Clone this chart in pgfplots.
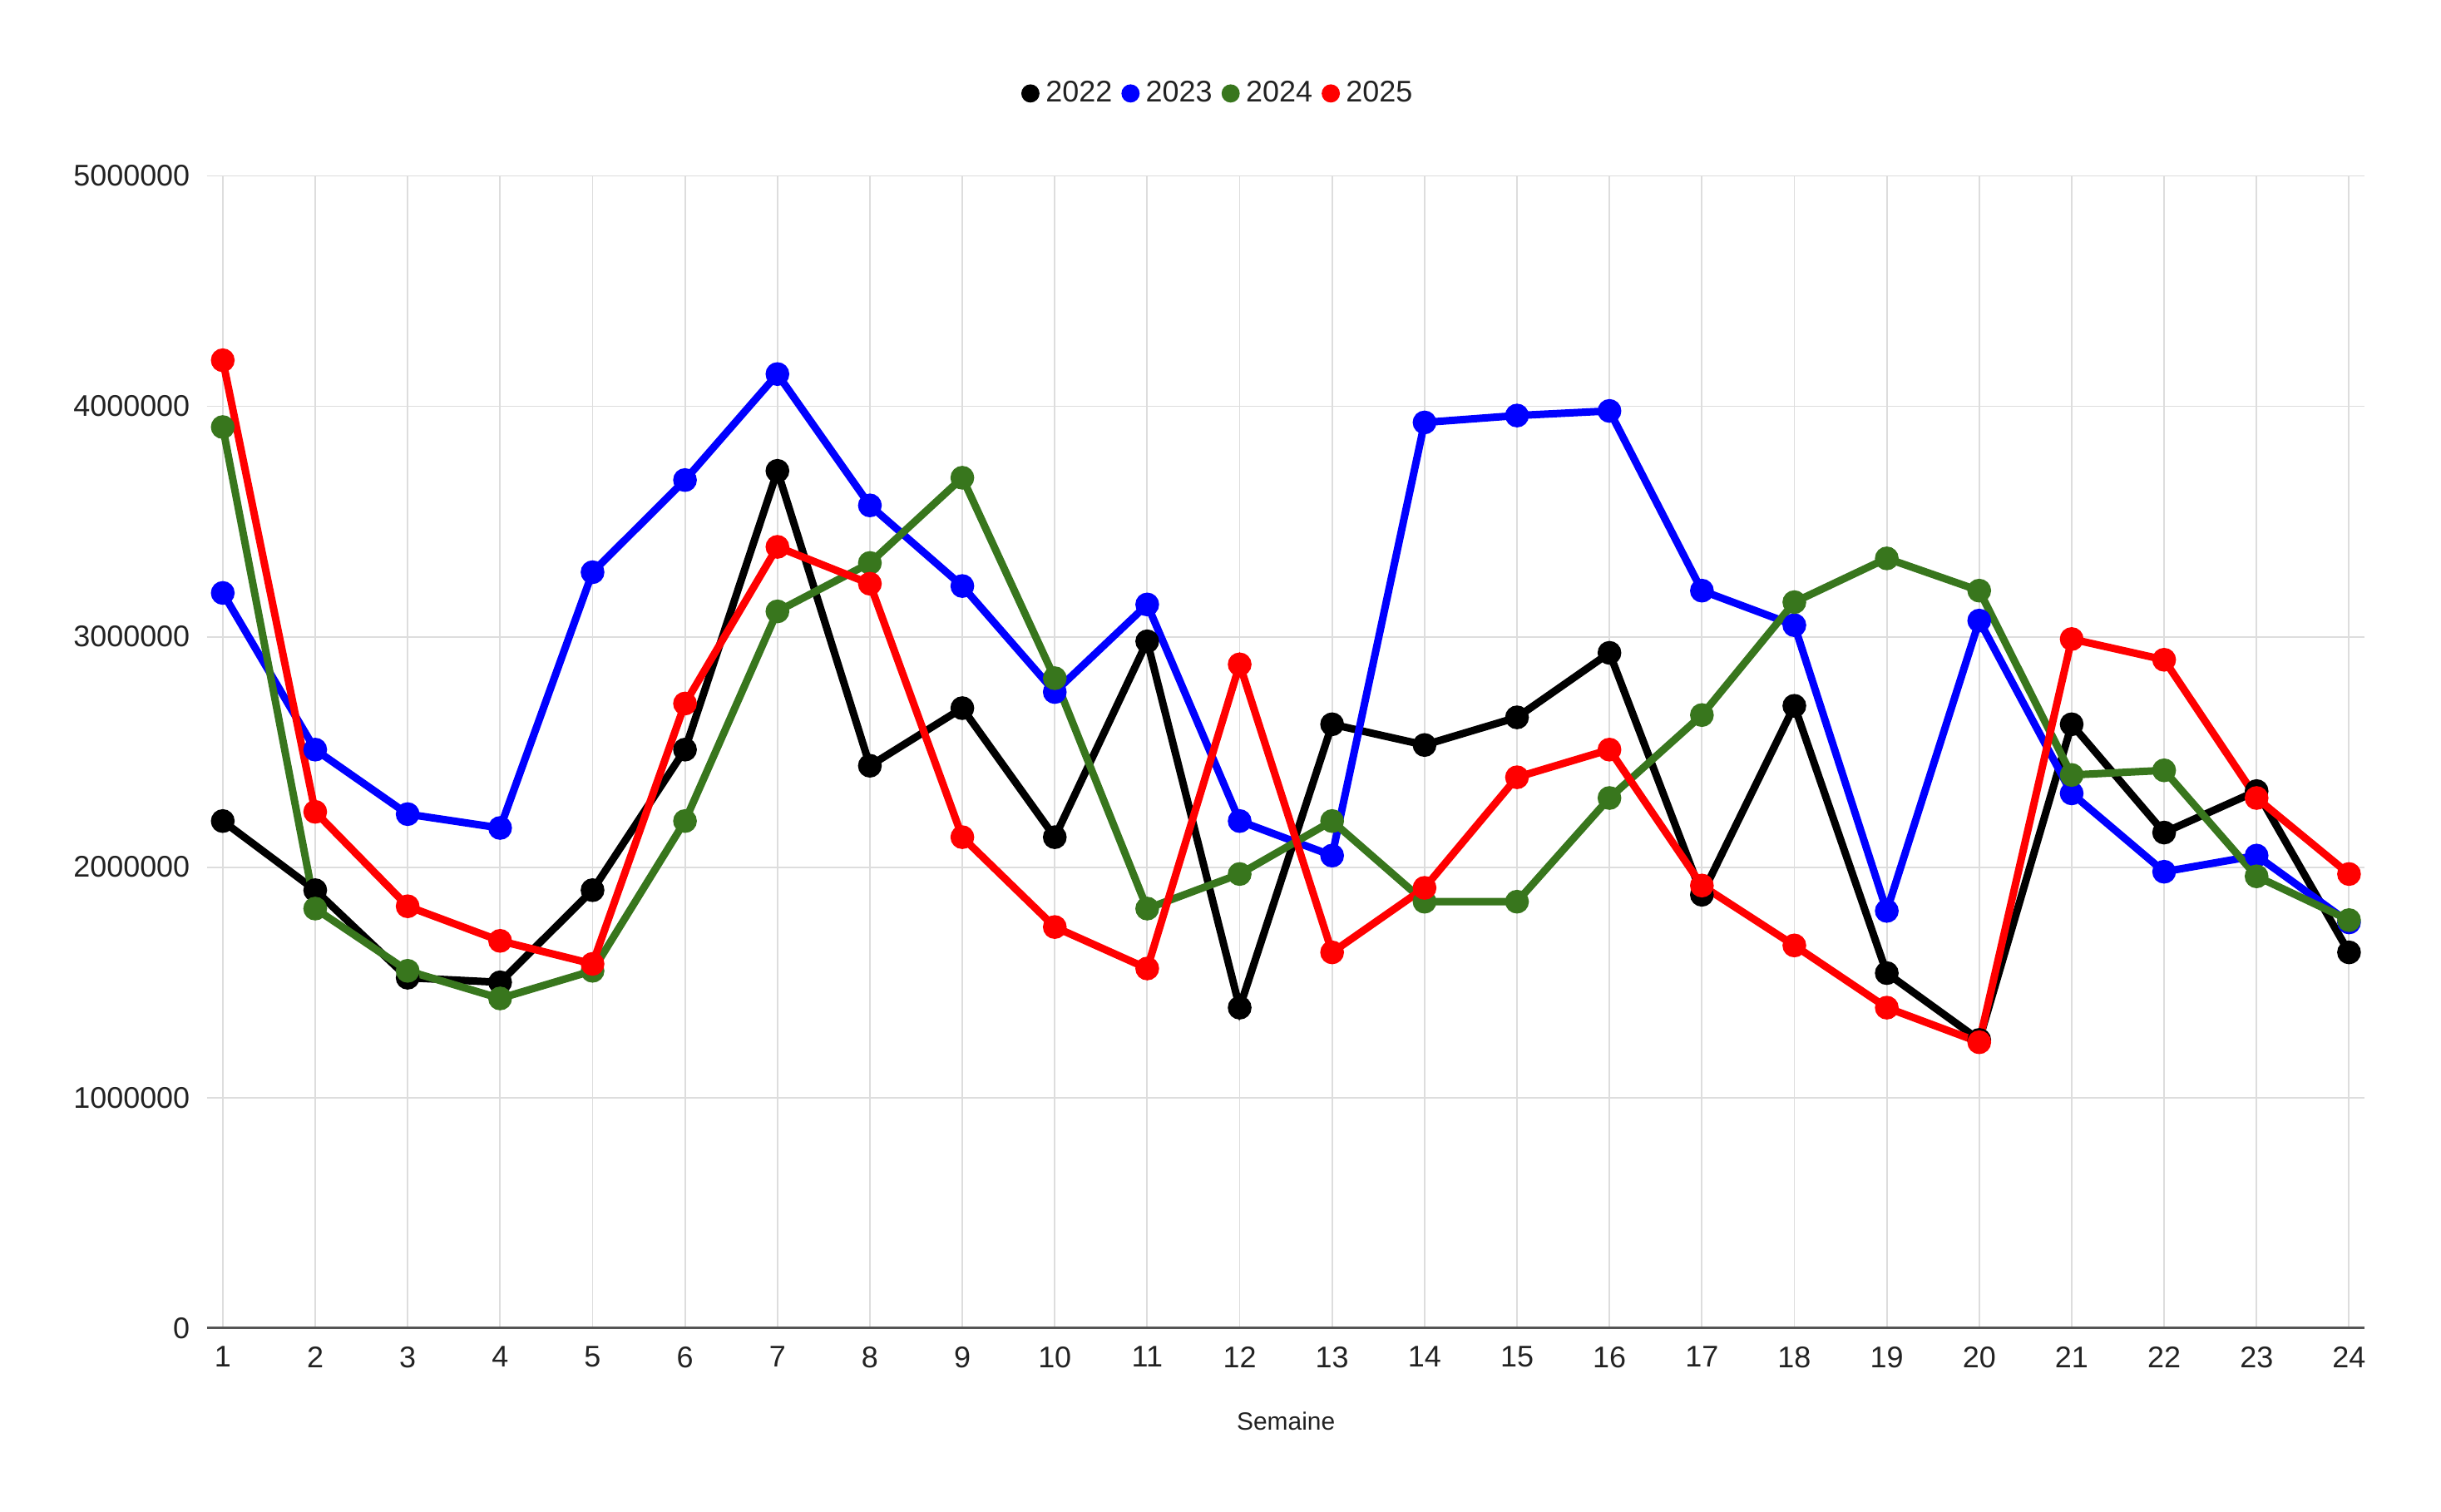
\documentclass[border=0pt]{standalone}
\usepackage{pgfplots}
\pgfplotsset{compat=1.18}
\usepackage{fontspec}
\setmainfont{Liberation Sans}
\definecolor{g24}{HTML}{38761D}
\definecolor{txt}{HTML}{222222}
\definecolor{gridc}{HTML}{DDDDDD}
\definecolor{axc}{HTML}{555555}
\begin{document}
\begin{tikzpicture}[x=1pt,y=1pt]
\path[use as bounding box] (0,0) rectangle (784,485.5);
\begin{axis}[
  at={(66.5pt,59pt)}, anchor=south west,
  scale only axis, width=693pt, height=370pt,
  xmin=0.83, xmax=24.17, ymin=0, ymax=5000000,
  xtick={1,2,3,4,5,6,7,8,9,10,11,12,13,14,15,16,17,18,19,20,21,22,23,24},
  ytick={0,1000000,2000000,3000000,4000000,5000000},
  yticklabels={0,1000000,2000000,3000000,4000000,5000000},
  scaled y ticks=false,
  grid=major, major grid style={gridc, line width=0.5pt},
  axis x line*=bottom, axis y line*=left,
  x axis line style={-, draw=axc, line width=0.7pt},
  y axis line style={draw=none},
  major tick length=0pt,
  /pgf/number format/assume math mode=true,
  tick label style={font=\fontsize{9.6}{11}\selectfont, text=txt},
  xticklabel style={yshift=-2.5pt},
  yticklabel style={xshift=-2pt},
  xlabel={Semaine},
  every axis x label/.style={at={(axis description cs:0.5,0)}, anchor=center, yshift=-30pt, font=\fontsize{8}{10}\selectfont, text=txt},
  legend columns=4,
  legend style={at={(0.4695,1.0716)}, anchor=center, draw=none, fill=none,
    font=\fontsize{9.6}{11}\selectfont, text=txt,
    nodes={inner xsep=2pt},
    /tikz/every even column/.append style={column sep=1pt}},
  legend image code/.code={\fill (0.1cm,0pt) circle (1.7pt);},
  every axis plot/.append style={line width=2.4pt, mark=*, mark size=2.6pt, mark options={solid}},
]
\addplot[color=black] coordinates {
(1,2200000)(2,1900000)(3,1520000)(4,1500000)(5,1900000)(6,2510000)(7,3720000)(8,2440000)
(9,2690000)(10,2130000)(11,2980000)(12,1390000)(13,2620000)(14,2530000)(15,2650000)(16,2930000)
(17,1880000)(18,2700000)(19,1540000)(20,1250000)(21,2620000)(22,2150000)(23,2330000)(24,1630000)};
\addlegendentry{2022}
\addplot[color=blue] coordinates {
(1,3190000)(2,2510000)(3,2230000)(4,2170000)(5,3280000)(6,3680000)(7,4140000)(8,3570000)
(9,3220000)(10,2760000)(11,3140000)(12,2200000)(13,2050000)(14,3930000)(15,3960000)(16,3980000)
(17,3200000)(18,3050000)(19,1810000)(20,3070000)(21,2320000)(22,1980000)(23,2050000)(24,1760000)};
\addlegendentry{2023}
\addplot[color=g24] coordinates {
(1,3910000)(2,1820000)(3,1550000)(4,1430000)(5,1550000)(6,2200000)(7,3110000)(8,3320000)
(9,3690000)(10,2820000)(11,1820000)(12,1970000)(13,2200000)(14,1850000)(15,1850000)(16,2300000)
(17,2660000)(18,3150000)(19,3340000)(20,3200000)(21,2400000)(22,2420000)(23,1960000)(24,1770000)};
\addlegendentry{2024}
\addplot[color=red] coordinates {
(1,4200000)(2,2240000)(3,1830000)(4,1680000)(5,1580000)(6,2710000)(7,3390000)(8,3230000)
(9,2130000)(10,1740000)(11,1560000)(12,2880000)(13,1630000)(14,1910000)(15,2390000)(16,2510000)
(17,1920000)(18,1660000)(19,1390000)(20,1240000)(21,2990000)(22,2900000)(23,2300000)(24,1970000)};
\addlegendentry{2025}
\end{axis}
\end{tikzpicture}
\end{document}
